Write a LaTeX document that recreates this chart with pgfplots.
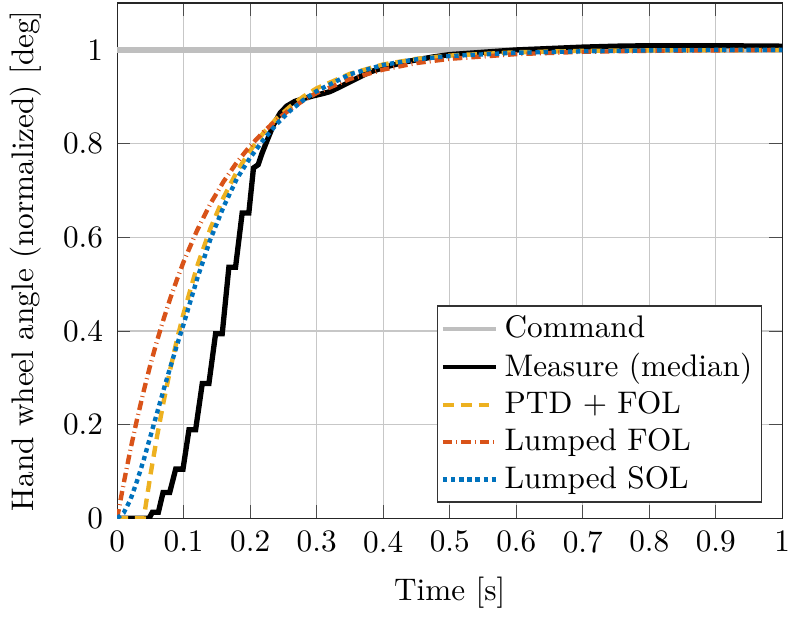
\documentclass[border=0pt]{standalone}
\usepackage{pgfplots}
\pgfplotsset{compat=1.18}
\definecolor{mgray}{RGB}{191,191,191}
\definecolor{myellow}{rgb}{0.929,0.694,0.125}
\definecolor{morange}{rgb}{0.85,0.325,0.098}
\definecolor{mblue}{rgb}{0,0.447,0.741}
\begin{document}
\begin{tikzpicture}
\begin{axis}[
  scale only axis,
  width=213pt, height=165pt,
  xmin=0, xmax=1, ymin=0, ymax=1.1,
  xtick={0,0.1,...,1.0},
  ytick={0,0.2,0.4,0.6,0.8,1},
  xticklabels={0,0.1,0.2,0.3,0.4,0.5,0.6,0.7,0.8,0.9,1},
  yticklabels={0,0.2,0.4,0.6,0.8,1},
  grid=major,
  major grid style={line width=0.4pt, draw=black!22},
  axis line style={black!85},
  tick style={black!70},
  xlabel={Time [s]},
  ylabel={Hand wheel angle (normalized) [deg]},
  xlabel style={yshift=-1pt},
  xticklabel style={yshift=-0.5pt, inner xsep=0.3pt},
  yticklabel style={xshift=-1pt},
  legend pos=south east,
  legend cell align=left,
  legend style={draw=black!80, line width=0.5pt, inner sep=1pt, row sep=-0.6pt},
  legend image post style={line width=1.4pt},
]
\addplot[mgray, line width=1.8pt] coordinates {(0,1) (1,1)};
\addlegendentry{Command}
\addplot[black, line width=1.7pt] coordinates {
(0,0) (0.048,0) (0.053,0.013) (0.062,0.013) (0.069,0.055) (0.079,0.055)
(0.088,0.105) (0.099,0.105) (0.108,0.189) (0.118,0.189) (0.128,0.288) (0.138,0.288)
(0.148,0.394) (0.158,0.394) (0.168,0.536) (0.178,0.536) (0.188,0.652) (0.198,0.652)
(0.205,0.748) (0.212,0.755) (0.218,0.78) (0.225,0.805) (0.235,0.84) (0.245,0.865)
(0.255,0.88) (0.267,0.89) (0.28,0.896) (0.295,0.902) (0.31,0.907) (0.32,0.911)
(0.335,0.921) (0.36,0.939) (0.38,0.953) (0.405,0.964) (0.435,0.975) (0.475,0.985)
(0.5,0.99) (0.55,0.995) (0.6,1.0) (0.65,1.003) (0.7,1.006)
(0.75,1.008) (0.8,1.009) (0.9,1.009) (1.0,1.008)};
\addlegendentry{Measure (median)}
\addplot[myellow, line width=1.4pt, dash pattern=on 3.5pt off 2.2pt] coordinates {
(0,0) (0.04,0) (0.05,0.092) (0.06,0.175) (0.07,0.250) (0.08,0.319) (0.09,0.382)
(0.10,0.438) (0.12,0.537) (0.14,0.618) (0.16,0.685) (0.18,0.740) (0.20,0.785)
(0.22,0.823) (0.24,0.854) (0.26,0.879) (0.28,0.9005) (0.30,0.918) (0.35,0.949)
(0.40,0.969) (0.45,0.981) (0.50,0.988) (0.6,0.995) (0.7,0.998) (0.8,0.999) (1.0,1.0)};
\addlegendentry{PTD + FOL}
\addplot[morange, line width=1.4pt, dash pattern=on 3pt off 1.3pt on 0.3pt off 1.3pt] coordinates {
(0,0) (0.01,0.076) (0.02,0.147) (0.03,0.212) (0.04,0.272) (0.05,0.328) (0.06,0.379)
(0.07,0.426) (0.08,0.470) (0.09,0.510) (0.10,0.548) (0.12,0.614) (0.14,0.671)
(0.16,0.719) (0.18,0.760) (0.20,0.795) (0.22,0.825) (0.24,0.851) (0.26,0.873)
(0.28,0.892) (0.30,0.908) (0.35,0.938) (0.40,0.958) (0.45,0.972) (0.50,0.981)
(0.6,0.991) (0.7,0.996) (0.8,0.998) (1.0,1.0)};
\addlegendentry{Lumped FOL}
\addplot[mblue, line width=1.4pt, dash pattern=on 1.4pt off 1.2pt] coordinates {
(0,0) (0.01,0.012) (0.02,0.04) (0.03,0.08) (0.04,0.125) (0.05,0.175) (0.06,0.225)
(0.07,0.275) (0.08,0.323) (0.09,0.37) (0.10,0.415) (0.12,0.51) (0.14,0.595)
(0.16,0.665) (0.18,0.725) (0.20,0.77) (0.22,0.808) (0.24,0.842) (0.26,0.87)
(0.28,0.893) (0.30,0.912) (0.35,0.948) (0.40,0.968) (0.45,0.98) (0.50,0.987)
(0.6,0.994) (0.7,0.997) (0.8,0.999) (0.9,1.0) (1.0,1.0)};
\addlegendentry{Lumped SOL}
\end{axis}
\end{tikzpicture}
\end{document}
